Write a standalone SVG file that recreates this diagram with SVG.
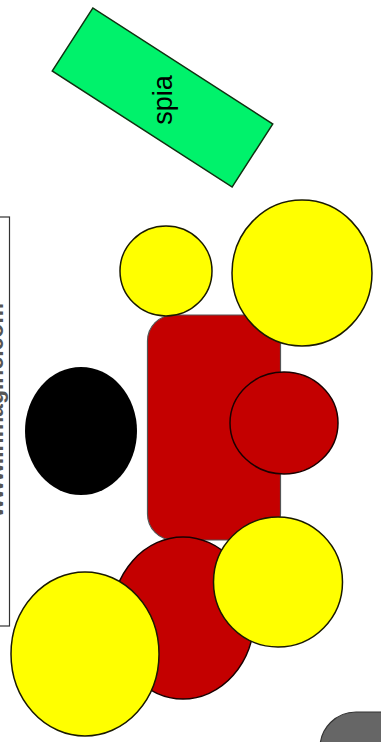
<svg xmlns="http://www.w3.org/2000/svg" width="381" height="742" viewBox="0 0 381 742">
<style>
.y{fill:#ffff00;stroke:#1a1a00;stroke-width:1.5}
.r{fill:#c40000;stroke:#1a0000;stroke-width:1.5}
.t{font-family:"Liberation Sans",Arial,sans-serif}
</style>
<rect width="381" height="742" fill="#fff"/>
<g id="frame">
<rect x="-40" y="217" width="49.5" height="409" fill="none" stroke="#333" stroke-width="1.2"/>
<text class="t" transform="translate(3,517) rotate(-90)" font-size="23" font-weight="bold" fill="#555">www.inmagine.com</text>
</g>
<g id="spia">
<rect x="-107" y="-37.5" width="214" height="75" transform="translate(162.5,97.5) rotate(32.8)" fill="#00f26b" stroke="#103010" stroke-width="1.5"/>
<text class="t" transform="translate(172,100) rotate(-90)" font-size="27" text-anchor="middle" fill="#000">spia</text>
</g>
<g id="body">
<rect x="147.5" y="315" width="133" height="225" rx="26" fill="#c40000" stroke="#555" stroke-width="1.2"/>
</g>
<g id="wheel-bottom-red"><ellipse class="r" cx="183" cy="618" rx="71" ry="81"/></g>
<g id="circle-small"><ellipse class="y" cx="166" cy="271" rx="46" ry="45"/></g>
<g id="circle-big"><ellipse class="y" cx="302" cy="273" rx="70" ry="73"/></g>
<g id="circle-red"><ellipse class="r" cx="284" cy="423" rx="54" ry="51"/></g>
<g id="black"><ellipse cx="81" cy="431" rx="56" ry="64" fill="#000"/></g>
<g id="yellow-br"><ellipse class="y" cx="278" cy="582" rx="64.5" ry="65"/></g>
<g id="yellow-bl"><ellipse class="y" cx="85" cy="654" rx="74" ry="82"/></g>
<g id="gray"><rect x="320" y="712" width="120" height="80" rx="36" fill="#666" stroke="#333" stroke-width="1.2"/></g>
<g id="connectors"></g>
</svg>
